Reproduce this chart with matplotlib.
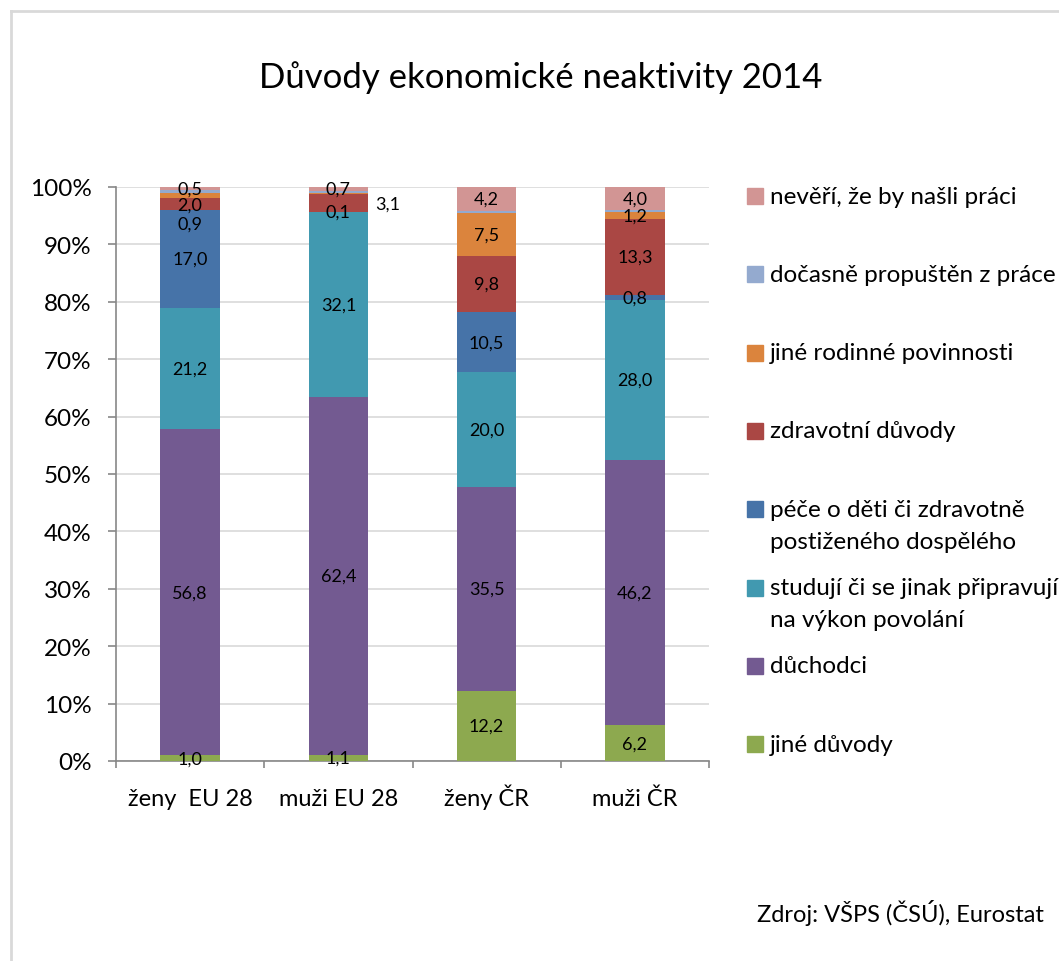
import numpy as np
import matplotlib
matplotlib.use('Agg')
from matplotlib import pyplot as plt
from matplotlib.patches import Rectangle
from matplotlib.lines import Line2D

plt.rcParams['font.family'] = ['Lato', 'DejaVu Sans']

# kategorie a hodnoty (v %)
kategorie = ['ženy  EU 28', 'muži EU 28', 'ženy ČR', 'muži ČR']

jine_duvody = [1.0, 1.1, 12.2, 6.2]
duchodci = [56.8, 62.4, 35.5, 46.2]
studuji = [21.2, 32.1, 20.0, 28.0]
pece = [17.0, 0.1, 10.5, 0.8]
zdravotni = [2.0, 3.1, 9.8, 13.3]
jine_rodinne = [0.9, 0.2, 7.5, 1.2]
docasne = [0.6, 0.3, 0.3, 0.3]
neveri = [0.5, 0.7, 4.2, 4.0]

nazvy = ['jiné důvody', 'důchodci', 'studují či se jinak připravují\nna výkon povolání',
         'péče o děti či zdravotně\npostiženého dospělého', 'zdravotní důvody',
         'jiné rodinné povinnosti', 'dočasně propuštěn z práce', 'nevěří, že by našli práci']
barvy = ['#8DA94F', '#735A91', '#4199B0', '#4673A8', '#AA4744', '#DB843D', '#94AACF', '#D29594']

serie = [jine_duvody, duchodci, studuji, pece, zdravotni, jine_rodinne, docasne, neveri]

W, H = 1059, 962
fig = plt.figure(figsize=(W / 100, H / 100), dpi=100)

def fx(px):
    return px / W

def fy(py):
    return 1 - py / H

ax = fig.add_axes([fx(116), fy(762), fx(709) - fx(116), fy(188) - fy(762)])

data = np.array(serie, dtype=float)
soucty = data.sum(axis=0)
procenta = data / soucty * 100

x = np.arange(len(kategorie))
spodek = np.zeros(len(kategorie))
sirka = 0.4

# popisky, ktere se nezobrazuji / posunute
skryte = {(6, 0), (6, 1), (6, 2), (6, 3), (5, 1)}
posun = {(5, 0): (0, -4.8), (4, 1): (0.33, -0.2)}

for i, (hodnoty, barva) in enumerate(zip(procenta, barvy)):
    ax.bar(x, hodnoty, sirka, bottom=spodek, color=barva, zorder=3)
    for j in range(len(kategorie)):
        if (i, j) in skryte:
            continue
        dx, dy = posun.get((i, j), (0, 0))
        txt = f'{serie[i][j]:.1f}'.replace('.', ',')
        ax.text(x[j] + dx, spodek[j] + hodnoty[j] / 2 + dy, txt, ha='center', va='center',
                fontsize=13, color='black', zorder=5)
    spodek += hodnoty

ax.set_xlim(-0.5, len(kategorie) - 0.5)
ax.set_ylim(0, 100)
ax.set_yticks(np.arange(0, 101, 10))
ax.set_yticklabels([f'{t}%' for t in range(0, 101, 10)], fontsize=17.5)
ax.yaxis.grid(True, color='#D9D9D9', linewidth=1.2, zorder=0)
ax.set_xticks(np.arange(-0.5, len(kategorie), 1))
ax.set_xticklabels([])
ax.set_xticks(x, minor=True)
ax.set_xticklabels(kategorie, minor=True, fontsize=17)
for lab in ax.get_xticklabels(minor=True):
    lab.set_va('baseline')
ax.tick_params(axis='x', which='major', length=5, color='#878787', width=1.2)
ax.tick_params(axis='x', which='minor', length=0, pad=32)
ax.tick_params(axis='y', length=6, color='#878787', width=1.2, pad=11.5)
for s in ['top', 'right']:
    ax.spines[s].set_visible(False)
for s in ['left', 'bottom']:
    ax.spines[s].set_color('#878787')
    ax.spines[s].set_linewidth(1.2)

# legenda
for k in range(len(nazvy)):
    i = len(nazvy) - 1 - k
    yk = 197 + k * 78.3
    fig.patches.append(Rectangle((fx(747), fy(yk + 8)), fx(16), fy(yk - 8) - fy(yk + 8),
                                 transform=fig.transFigure, color=barvy[i]))
    for r, radek in enumerate(nazvy[i].split('\n')):
        fig.text(fx(770), fy(yk + r * 32), radek, fontsize=17.5, va='center', ha='left')

fig.suptitle('Důvody ekonomické neaktivity 2014', x=fx(541), y=fy(78), va='center', fontsize=25)
fig.text(fx(757), fy(913), 'Zdroj: VŠPS (ČSÚ), Eurostat', fontsize=17, va='center', ha='left')

# okraj grafu
fig.lines.append(Line2D([fx(11), fx(11)], [0, fy(12)], transform=fig.transFigure, color='#D9D9D9', lw=2))
fig.lines.append(Line2D([fx(11), 1], [fy(12), fy(12)], transform=fig.transFigure, color='#D9D9D9', lw=2))

fig.savefig('out.png', dpi=100)
